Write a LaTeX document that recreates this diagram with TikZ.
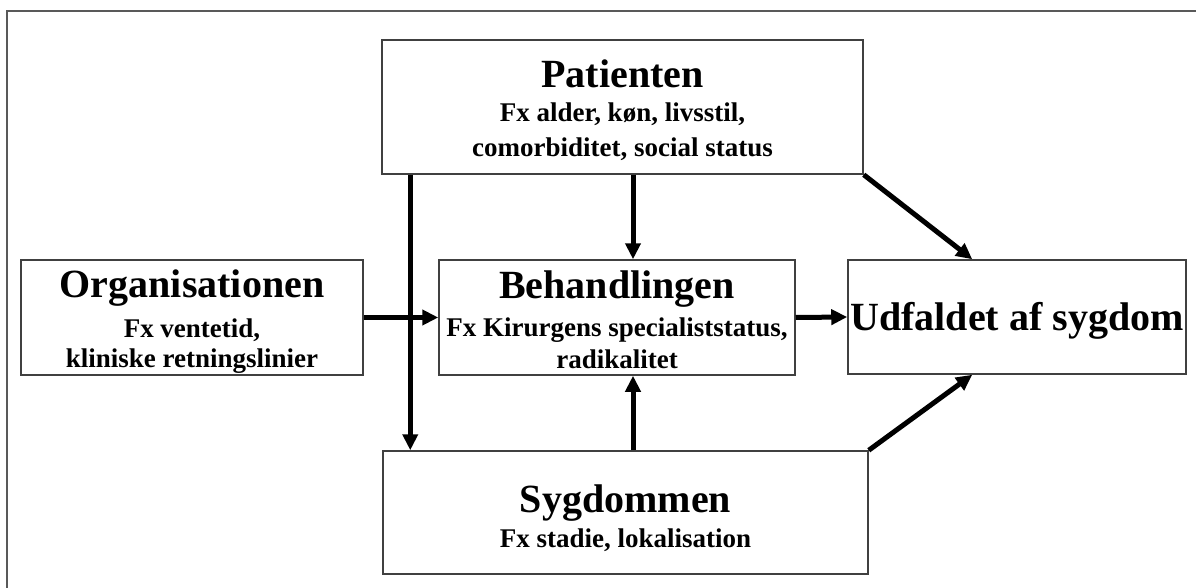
\documentclass[tikz,border=0pt]{standalone}
\usepackage{fontspec}
\setmainfont{Liberation Serif}
\usetikzlibrary{arrows.meta,calc}
\newcommand{\ttlsize}{\fontsize{40}{40}\selectfont}
\newcommand{\topstrut}[1]{\rule{0pt}{#1pt}}
\newcommand{\botstrut}[1]{\rule[-#1pt]{0pt}{#1pt}}
\begin{document}
\begin{tikzpicture}[x=1pt,y=-1pt,
  box/.style={draw=black!75, line width=1.5pt, fill=white, inner sep=0pt,
    align=center, font=\fontsize{27}{30}\selectfont\bfseries},
  arr/.style={line width=5pt, -{Triangle[length=16pt,width=15pt]}},
  plainline/.style={line width=5pt},
  frame/.style={draw=black!65, line width=2pt}]
\useasboundingbox (0,0) rectangle (1196,588);
\draw[frame] (7,588) -- (7,11) -- (1196,11);

\node[box, minimum width=481pt, minimum height=134pt] (pat) at (622.5,107)
  {\topstrut{36}{\ttlsize Patienten}\\[4pt] Fx alder, køn, livsstil,\\[5pt] comorbiditet, social status\botstrut{5}};
\node[box, minimum width=356pt, minimum height=115pt] (beh) at (617,317.5)
  {\topstrut{36}{\ttlsize Behandlingen}\\[8pt] Fx Kirurgens specialiststatus,\\[2pt] radikalitet\botstrut{5}};
\node[box, minimum width=342pt, minimum height=115pt] (org) at (192,317.5)
  {\topstrut{35}{\ttlsize Organisationen}\\[10pt] Fx ventetid,\\[0pt] kliniske retningslinier\botstrut{6}};
\node[box, minimum width=338pt, minimum height=114pt] (udf) at (1017,317)
  {\topstrut{35}{\ttlsize Udfaldet af sygdom}\botstrut{5}};
\node[box, minimum width=485pt, minimum height=123pt] (syg) at (625.5,512.5)
  {\topstrut{39}{\ttlsize Sygdommen}\\[5pt] Fx stadie, lokalisation\botstrut{5}};

% connectors
\draw[arr] ([xshift=29pt]pat.south west) -- ([xshift=29pt]pat.south west |- syg.north);
\draw[arr] ([xshift=10.5pt]pat.south) -- ([xshift=10.5pt]pat.south |- beh.north);
\draw[arr] ([xshift=7.5pt]syg.north) -- ([xshift=7.5pt]syg.north |- beh.south);
\draw[arr] (org.east) -- (beh.west);
\draw[arr] (beh.east) -- (udf.west);
\draw[arr] (pat.south east) -- ([xshift=125pt]udf.north west);
\draw[arr] (syg.north east) -- ([xshift=125pt]udf.south west);
\end{tikzpicture}
\end{document}
